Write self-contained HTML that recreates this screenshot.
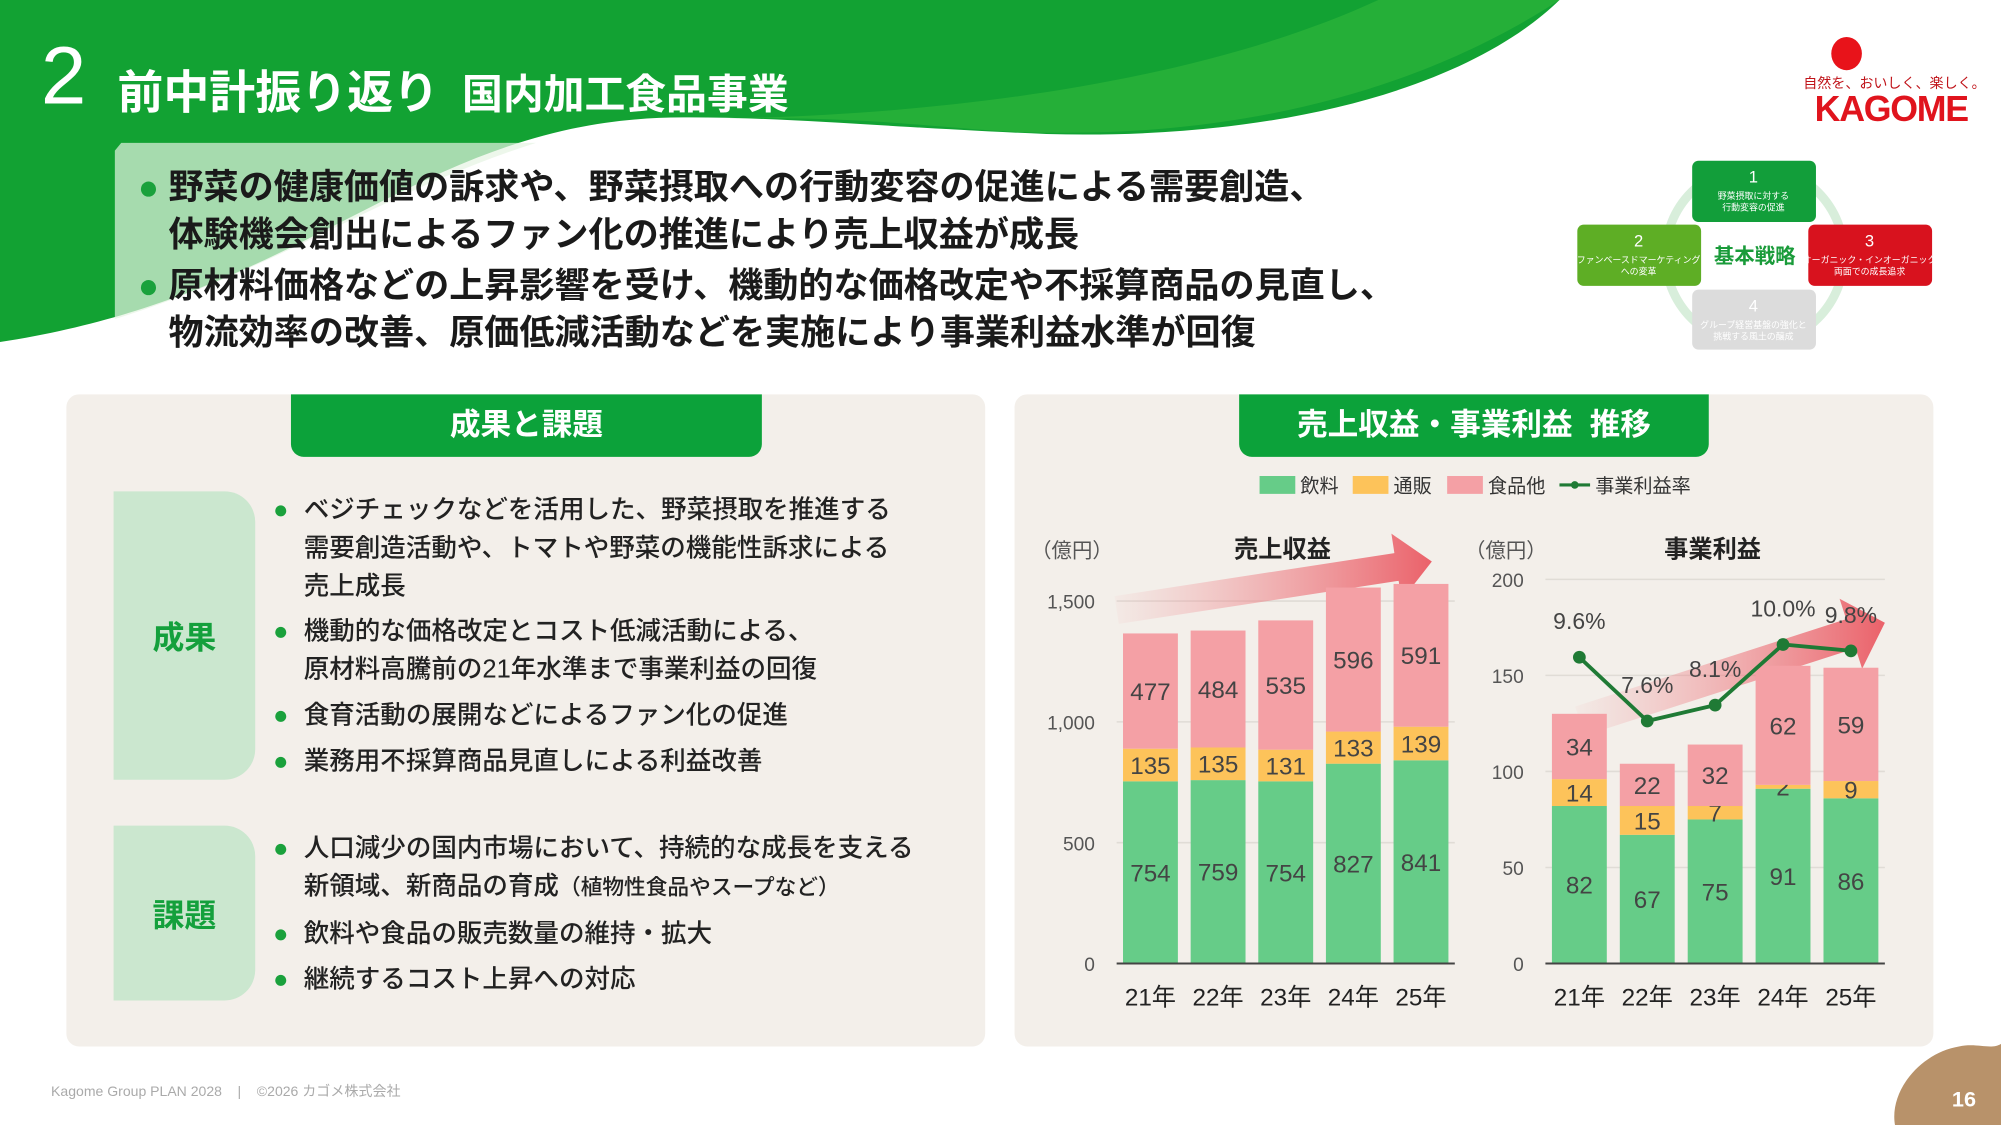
<!DOCTYPE html>
<html><head><meta charset="utf-8">
<style>
html,body{margin:0;padding:0;background:#fff;overflow:hidden}
body{width:2001px;height:1125px;position:relative}
#stage{position:absolute;left:0;top:0;width:1568px;height:881.5px;transform:scale(1.27615);transform-origin:0 0;font-family:"Liberation Sans","Noto Sans CJK JP",sans-serif;color:#222}
.abs{position:absolute}
.bul{font-size:27.5px;font-weight:bold;line-height:37px;color:#1a1a1a}
.dot{color:#1aa13c}
.pt{font-size:20px;line-height:30px;color:#222;font-weight:500}
</style></head><body>
<div id="stage">
<svg class="abs" style="left:0;top:0" width="1568" height="300">
 <path d="M0,0 L1222,0 C1150,70 1000,110 820,105 C700,100 620,92 540,92 C330,90 250,230 0,268 Z" fill="#12a233"/>
 <path d="M560,93 C700,90 760,105 830,104 C1000,105 1130,60 1222,0 L1080,0 C950,60 760,90 560,93 Z" fill="#2ab33a" opacity="0.8"/>
 <path d="M95,112 L420,112 C300,150 220,210 90,250 L90,118 Z" fill="#e6f3e2" opacity="0.7"/>
</svg>
<div class="abs" style="left:32px;top:22px;font-size:64px;color:#fff;font-weight:300">2</div>
<div class="abs" style="left:92px;top:44px;font-size:36px;font-weight:bold;color:#fff;white-space:nowrap">前中計振り返り<span style="font-size:32px;margin-left:18px">国内加工食品事業</span></div>
<div class="abs" style="left:1408px;top:26px;width:135px;height:75px">
 <div class="abs" style="left:27px;top:3px;width:24px;height:26px;border-radius:50%;background:#e8131a"></div>
 <div class="abs" style="left:5px;top:31px;font-size:11px;color:#c0141a;white-space:nowrap">自然を、おいしく、楽しく。</div>
 <div class="abs" style="left:14px;top:44px;font-size:28px;font-weight:bold;color:#e0141d;letter-spacing:-1px">KAGOME</div>
</div>
<div class="abs bul" style="left:108px;top:128px;white-space:nowrap">
 <div><span class="dot" style="display:inline-block;width:24px">●</span>野菜の健康価値の訴求や、野菜摂取への行動変容の促進による需要創造、</div>
 <div style="padding-left:24px">体験機会創出によるファン化の推進により売上収益が成長</div>
 <div style="margin-top:3px"><span class="dot" style="display:inline-block;width:24px">●</span>原材料価格などの上昇影響を受け、機動的な価格改定や不採算商品の見直し、</div>
 <div style="padding-left:24px">物流効率の改善、原価低減活動などを実施により事業利益水準が回復</div>
</div>
<svg class="abs" style="left:1230px;top:120px" width="290" height="160" font-family="Liberation Sans, Noto Sans CJK JP, sans-serif">
 <circle cx="145" cy="80" r="70" fill="none" stroke="#d8eedb" stroke-width="7"/>
 <rect x="96" y="6" width="97" height="48" rx="5" fill="#129e3a"/><text x="144" y="23" fill="#fff" font-size="13" text-anchor="middle">1</text><text x="144" y="36" fill="#fff" font-size="7" text-anchor="middle">野菜摂取に対する</text><text x="144" y="45" fill="#fff" font-size="7" text-anchor="middle">行動変容の促進</text>
 <rect x="6" y="56" width="97" height="48" rx="5" fill="#5eae25"/><text x="54" y="73" fill="#fff" font-size="13" text-anchor="middle">2</text><text x="54" y="86" fill="#fff" font-size="7" text-anchor="middle">ファンベースドマーケティング</text><text x="54" y="95" fill="#fff" font-size="7" text-anchor="middle">への変革</text>
 <rect x="187" y="56" width="97" height="48" rx="5" fill="#d8121e"/><text x="235" y="73" fill="#fff" font-size="13" text-anchor="middle">3</text><text x="235" y="86" fill="#fff" font-size="7" text-anchor="middle">オーガニック・インオーガニック</text><text x="235" y="95" fill="#fff" font-size="7" text-anchor="middle">両面での成長追求</text>
 <rect x="96" y="107" width="97" height="47" rx="5" fill="#dcdcdc"/><text x="144" y="124" fill="#fff" font-size="13" text-anchor="middle">4</text><text x="144" y="137" fill="#fff" font-size="7" text-anchor="middle">グループ経営基盤の強化と</text><text x="144" y="146" fill="#fff" font-size="7" text-anchor="middle">挑戦する風土の醸成</text>
 <text x="145" y="86" fill="#1a9b3a" font-size="16" font-weight="bold" text-anchor="middle">基本戦略</text>
</svg>

<!-- left panel -->
<div class="abs" style="left:52px;top:309px;width:720px;height:511px;background:#f3efea;border-radius:10px"></div>
<div class="abs" style="left:228px;top:309px;width:369px;height:49px;background:#0ca23a;border-radius:0 0 10px 10px;color:#fff;font-size:24px;font-weight:bold;text-align:center;line-height:49px">成果と課題</div>
<div class="abs" style="left:89px;top:385px;width:111px;height:226px;background:#cbe7cf;border-radius:0 24px 24px 0;color:#14a03c;font-size:25px;font-weight:bold;display:flex;align-items:center;justify-content:center">成果</div>
<div class="abs" style="left:89px;top:647px;width:111px;height:137px;background:#cbe7cf;border-radius:0 24px 24px 0;color:#14a03c;font-size:25px;font-weight:bold;display:flex;align-items:center;justify-content:center">課題</div>
<div class="abs pt" style="left:214px;top:385px;white-space:nowrap">
 <div><span class="dot" style="display:inline-block;width:24px">●</span>ベジチェックなどを活用した、野菜摂取を推進する</div>
 <div style="padding-left:24px">需要創造活動や、トマトや野菜の機能性訴求による</div>
 <div style="padding-left:24px">売上成長</div>
 <div style="margin-top:5px"><span class="dot" style="display:inline-block;width:24px">●</span>機動的な価格改定とコスト低減活動による、</div>
 <div style="padding-left:24px">原材料高騰前の21年水準まで事業利益の回復</div>
 <div style="margin-top:6px"><span class="dot" style="display:inline-block;width:24px">●</span>食育活動の展開などによるファン化の促進</div>
 <div style="margin-top:6px"><span class="dot" style="display:inline-block;width:24px">●</span>業務用不採算商品見直しによる利益改善</div>
</div>
<div class="abs pt" style="left:214px;top:650px;white-space:nowrap">
 <div><span class="dot" style="display:inline-block;width:24px">●</span>人口減少の国内市場において、持続的な成長を支える</div>
 <div style="padding-left:24px">新領域、新商品の育成<span style="font-size:17px">（植物性食品やスープなど）</span></div>
 <div style="margin-top:6px"><span class="dot" style="display:inline-block;width:24px">●</span>飲料や食品の販売数量の維持・拡大</div>
 <div style="margin-top:6px"><span class="dot" style="display:inline-block;width:24px">●</span>継続するコスト上昇への対応</div>
</div>

<!-- right panel -->
<div class="abs" style="left:795px;top:309px;width:720px;height:511px;background:#f3efea;border-radius:10px"></div>
<div class="abs" style="left:971px;top:309px;width:368px;height:49px;background:#0ca23a;border-radius:0 0 10px 10px;color:#fff;font-size:24px;font-weight:bold;text-align:center;line-height:49px">売上収益・事業利益&nbsp; 推移</div>
<svg id="ch" class="abs" style="left:0;top:0" width="1568" height="881" font-family="Liberation Sans, Noto Sans CJK JP, sans-serif"></svg>

<div class="abs" style="left:40px;top:847px;font-size:11px;color:#aaa">Kagome Group PLAN 2028 &nbsp;&nbsp;&nbsp;|&nbsp;&nbsp;&nbsp; ©2026 カゴメ株式会社</div>
<svg class="abs" style="left:1475px;top:815px" width="93" height="67"><path d="M10,67 C5,40 30,10 60,5 C75,2 85,8 93,3 L93,67 Z" fill="#b8926a"/><text x="64" y="52" fill="#fff" font-size="17" font-weight="bold" text-anchor="middle" font-family="Liberation Sans, sans-serif">16</text></svg>
</div>
<script>
const years=["21年","22年","23年","24年","25年"];
const salesDrink=[754,759,754,827,841];
const salesMail=[135,135,131,133,139];
const salesFood=[477,484,535,596,591];
const salesTicks=[0,500,1000,1500];
const profDrink=[82,67,75,91,86];
const profMail=[14,15,7,2,9];
const profFood=[34,22,32,62,59];
const profTicks=[0,50,100,150,200];
const margin=[9.6,7.6,8.1,10.0,9.8];
const marginLabels=["9.6%","7.6%","8.1%","10.0%","9.8%"];
const C={d:"#66cc88",m:"#fdc35a",f:"#f4a0a5"};
const svg=document.getElementById('ch');
const NS="http://www.w3.org/2000/svg";
function mk(t,a,txt){const e=document.createElementNS(NS,t);for(const k in a)e.setAttribute(k,a[k]);if(txt!==undefined)e.textContent=txt;svg.appendChild(e);return e;}
const defs=mk('defs',{});
defs.innerHTML='<linearGradient id="ag" x1="0" x2="1" y1="0" y2="0"><stop offset="0" stop-color="#f08a90" stop-opacity="0.05"/><stop offset="1" stop-color="#ea5a63" stop-opacity="0.95"/></linearGradient>';
const lg=[["飲料",C.d,987],["通販",C.m,1060],["食品他",C.f,1134]];
lg.forEach(l=>{const r=mk('rect',{x:l[2],y:373,width:28,height:14,fill:l[1]});


mk('text',{x:l[2]+32,y:386,'font-size':15,fill:'#333'},l[0]);});
mk('line',{x1:1222,y1:380,x2:1246,y2:380,stroke:'#1f7a35','stroke-width':2.5});
mk('circle',{cx:1234,cy:380,r:3,fill:'#1f7a35'});
mk('text',{x:1250,y:386,'font-size':15,fill:'#333'},"事業利益率");

function arrow(x1,y1,x2,y2,w){const a=Math.atan2(y2-y1,x2-x1),c=Math.cos(a),s=Math.sin(a);
const hl=28,hw=w*1.2,bx=x2-hl*c,by=y2-hl*s;const px=-s,py=c;
const pts=[[x1+px*w/2,y1+py*w/2],[bx+px*w/2,by+py*w/2],[bx+px*hw,by+py*hw],[x2,y2],[bx-px*hw,by-py*hw],[bx-px*w/2,by-py*w/2],[x1-px*w/2,y1-py*w/2]];
mk('polygon',{points:pts.map(p=>p.join(',')).join(' '),fill:'url(#ag)'});}

function chart(o){
 const y=v=>o.y0-(v/o.max)*(o.y0-o.yTop);
 o.ticks.forEach(t=>{
  if(t>0)mk('line',{x1:o.x0,x2:o.x1,y1:y(t),y2:y(t),stroke:'#e0dcd6','stroke-width':1.2});
  mk('text',{x:o.lx,y:y(t)+6,'font-size':15,fill:'#555','text-anchor':'end'},t.toLocaleString('en-US'));});
 mk('text',{x:o.ux,y:437,'font-size':16,fill:'#555','text-anchor':'middle'},"（億円）");
 mk('text',{x:o.tx,y:437,'font-size':19,'font-weight':'bold',fill:'#222','text-anchor':'middle'},o.title);
 o.arrow();
 const step=(o.x1-o.x0)/years.length,bw=43;
 years.forEach((yr,i)=>{const cx=o.x0+step*(i+0.5);let base=0;
  [[o.d[i],C.d],[o.m[i],C.m],[o.f[i],C.f]].forEach((s,j)=>{
   const r=mk('rect',{x:cx-bw/2,y:y(base+s[0]),width:bw,height:y(base)-y(base+s[0]),fill:s[1]});
   
   
   mk('text',{x:cx,y:(y(base)+y(base+s[0]))/2+7,'font-size':19,fill:'#444','text-anchor':'middle'},s[0]);
   base+=s[0];});
  mk('text',{x:cx,y:788,'font-size':19,fill:'#222','text-anchor':'middle'},yr);
 });
 mk('line',{x1:o.x0,x2:o.x1,y1:o.y0,y2:o.y0,stroke:'#444','stroke-width':1.5});
 return {y,step};
}
chart({x0:875,x1:1140,y0:755,yTop:471,max:1500,ticks:salesTicks,lx:858,ux:840,tx:1005,title:"売上収益",d:salesDrink,m:salesMail,f:salesFood,arrow:()=>arrow(875,478,1122,440,22)});
const r=chart({x0:1211,x1:1477,y0:755,yTop:454,max:200,ticks:profTicks,lx:1194,ux:1180,tx:1342,title:"事業利益",d:profDrink,m:profMail,f:profFood,arrow:()=>arrow(1238,565,1477,488,24)});
const ym=v=>755-(v/12)*(755-455);
const pts=margin.map((m,i)=>[1211+r.step*(i+0.5),ym(m)]);
const pl=mk('polyline',{points:pts.map(p=>p.join(',')).join(' '),fill:'none',stroke:'#1f7a35','stroke-width':3});


pts.forEach((p,i)=>{mk('circle',{cx:p[0],cy:p[1],r:5,fill:'#1f7a35'});
 mk('text',{x:p[0],y:p[1]-22,'font-size':18,fill:'#444','text-anchor':'middle'},marginLabels[i]);});
</script>
</body></html>
